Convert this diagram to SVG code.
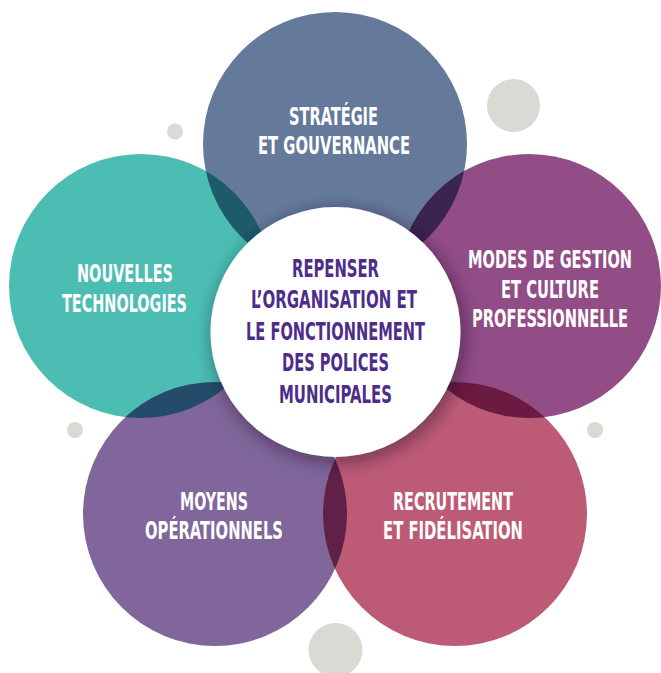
<svg xmlns="http://www.w3.org/2000/svg" width="661" height="673" viewBox="0 0 661 673">
  <style>
    .lbl { font-family: "Liberation Sans Narrow", "DejaVu Sans Condensed", "Liberation Sans", sans-serif; font-weight: bold; font-size: 24px; text-anchor: middle; fill: #ffffff; }
    .core { fill: #4e2c8a; }
    .dot { fill: #dbd9d4; }
  </style>
  <defs>
    <clipPath id="clipTop"><circle cx="335" cy="144" r="132"/></clipPath>
    <clipPath id="clipLeft"><circle cx="141" cy="286" r="132"/></clipPath>
    <clipPath id="clipRight"><circle cx="529" cy="286" r="132"/></clipPath>
    <clipPath id="clipBL"><circle cx="215" cy="514" r="132"/></clipPath>
    <clipPath id="clipBR"><circle cx="455" cy="514" r="132"/></clipPath>
    <filter id="shadow" x="-30%" y="-30%" width="160%" height="160%">
      <feDropShadow dx="3" dy="4" stdDeviation="9" flood-color="#1a0f2a" flood-opacity="0.55"/>
    </filter>
  </defs>

  <!-- decorative dots -->
  <g id="dots">
    <circle class="dot" cx="513.5" cy="105.5" r="26.5"/>
    <circle class="dot" cx="175" cy="131.5" r="8"/>
    <circle class="dot" cx="75" cy="430" r="8"/>
    <circle class="dot" cx="595" cy="430" r="8"/>
    <circle class="dot" cx="335.5" cy="650" r="27"/>
  </g>

  <!-- theme circles -->
  <g id="strategie">
    <circle cx="335" cy="144" r="132" fill="#65799a"/>
  </g>
  <g id="technologies">
    <circle cx="141" cy="286" r="132" fill="#4bbdb2"/>
  </g>
  <g id="gestion">
    <circle cx="529" cy="286" r="132" fill="#924d87"/>
  </g>
  <g id="moyens">
    <circle cx="215" cy="514" r="132" fill="#80669a"/>
  </g>
  <g id="recrutement">
    <circle cx="455" cy="514" r="132" fill="#bd5b77"/>
  </g>

  <!-- darker lens where neighbouring circles overlap -->
  <g id="overlaps">
    <circle cx="141" cy="286" r="132" fill="#1e5b6a" clip-path="url(#clipTop)"/>
    <circle cx="529" cy="286" r="132" fill="#3a2450" clip-path="url(#clipTop)"/>
    <circle cx="215" cy="514" r="132" fill="#254b6b" clip-path="url(#clipLeft)"/>
    <circle cx="455" cy="514" r="132" fill="#6b1a41" clip-path="url(#clipRight)"/>
    <circle cx="455" cy="514" r="132" fill="#5f2148" clip-path="url(#clipBL)"/>
  </g>

  <!-- labels of the theme circles -->
  <g id="labels">
    <text class="lbl" x="333.5" y="125" textLength="89" lengthAdjust="spacingAndGlyphs">STRATÉGIE</text>
    <text class="lbl" x="334" y="154" textLength="152" lengthAdjust="spacingAndGlyphs">ET GOUVERNANCE</text>

    <text class="lbl" x="125" y="282" textLength="96" lengthAdjust="spacingAndGlyphs">NOUVELLES</text>
    <text class="lbl" x="124.5" y="312" textLength="125" lengthAdjust="spacingAndGlyphs">TECHNOLOGIES</text>

    <text class="lbl" x="550" y="268" textLength="164" lengthAdjust="spacingAndGlyphs">MODES DE GESTION</text>
    <text class="lbl" x="550" y="298" textLength="98" lengthAdjust="spacingAndGlyphs">ET CULTURE</text>
    <text class="lbl" x="550" y="327" textLength="156" lengthAdjust="spacingAndGlyphs">PROFESSIONNELLE</text>

    <text class="lbl" x="214" y="510" textLength="68" lengthAdjust="spacingAndGlyphs">MOYENS</text>
    <text class="lbl" x="214" y="539" textLength="138" lengthAdjust="spacingAndGlyphs">OPÉRATIONNELS</text>

    <text class="lbl" x="453" y="510" textLength="120" lengthAdjust="spacingAndGlyphs">RECRUTEMENT</text>
    <text class="lbl" x="453" y="539" textLength="140" lengthAdjust="spacingAndGlyphs">ET FIDÉLISATION</text>
  </g>

  <!-- central white circle -->
  <g id="centre">
    <circle cx="335.5" cy="332" r="125" fill="#ffffff" filter="url(#shadow)"/>
    <text class="lbl core" x="335.5" y="277" textLength="87" lengthAdjust="spacingAndGlyphs">REPENSER</text>
    <text class="lbl core" x="334" y="308" textLength="166" lengthAdjust="spacingAndGlyphs">L’ORGANISATION ET</text>
    <text class="lbl core" x="335.5" y="340" textLength="179" lengthAdjust="spacingAndGlyphs">LE FONCTIONNEMENT</text>
    <text class="lbl core" x="335.5" y="371" textLength="107" lengthAdjust="spacingAndGlyphs">DES POLICES</text>
    <text class="lbl core" x="335.5" y="403" textLength="113" lengthAdjust="spacingAndGlyphs">MUNICIPALES</text>
  </g>
</svg>
